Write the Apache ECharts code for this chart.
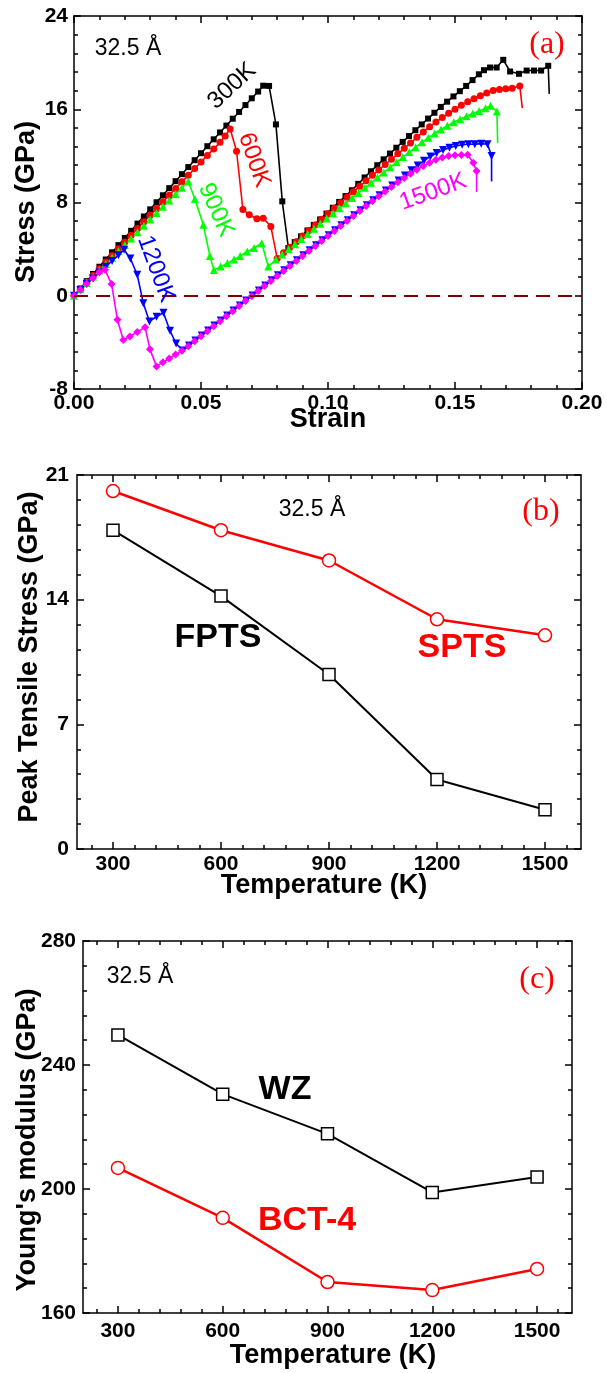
<!DOCTYPE html>
<html><head><meta charset="utf-8">
<script src="https://cdn.jsdelivr.net/npm/echarts@6/dist/echarts.min.js"></script>
<style>html,body{margin:0;padding:0;background:#fff}#c{width:607px;height:1373px}</style>
</head><body><div id="c"></div>
<script>
// ---------- Panel (a): stress-strain curves [strain, stress GPa] ----------
const curve300K = [[0,0],[0.0025,0.62],[0.005,1.25],[0.0075,1.87],[0.01,2.49],[0.0125,3.11],[0.015,3.73],[0.0175,4.34],[0.02,4.96],[0.0225,5.57],[0.025,6.19],[0.0275,6.8],[0.03,7.41],[0.0325,8.02],[0.035,8.62],[0.0375,9.23],[0.04,9.83],[0.0425,10.43],[0.045,11.04],[0.0475,11.63],[0.05,12.23],[0.0525,12.83],[0.055,13.42],[0.0575,14.01],[0.06,14.6],[0.0625,15.19],[0.065,15.77],[0.0675,16.36],[0.07,16.94],[0.0725,17.52],[0.0745,18.02],[0.0768,18.0],[0.0795,14.7],[0.082,8.1],[0.0844,4.1],[0.0869,4.6],[0.0894,5.1],[0.0919,5.6],[0.0944,6.08],[0.0969,6.55],[0.0994,7.05],[0.1019,7.55],[0.1044,8.05],[0.1069,8.55],[0.1094,9.05],[0.1119,9.6],[0.1144,10.15],[0.1169,10.68],[0.1194,11.2],[0.1219,11.7],[0.1244,12.2],[0.1269,12.7],[0.1294,13.2],[0.1319,13.7],[0.1344,14.2],[0.1369,14.7],[0.1394,15.2],[0.1419,15.7],[0.1444,16.2],[0.1469,16.65],[0.1494,17.1],[0.1519,17.55],[0.1544,18.0],[0.1569,18.5],[0.1594,19.0],[0.1614,19.35],[0.1638,19.58],[0.1664,19.58],[0.169,20.24],[0.1717,19.24],[0.1752,19.04],[0.1782,19.32],[0.1811,19.32],[0.1839,19.32],[0.1867,19.73],[0.1871,17.32]];
const curve600K = [[0,0],[0.0025,0.58],[0.005,1.16],[0.0075,1.73],[0.01,2.31],[0.0125,2.89],[0.015,3.46],[0.0175,4.04],[0.02,4.62],[0.0225,5.19],[0.025,5.77],[0.0275,6.34],[0.03,6.92],[0.0325,7.49],[0.035,8.06],[0.0375,8.63],[0.04,9.2],[0.0425,9.77],[0.045,10.34],[0.0475,10.91],[0.05,11.47],[0.0525,12.04],[0.055,12.6],[0.0575,13.16],[0.0595,13.7],[0.0615,14.3],[0.064,12.4],[0.0665,7.4],[0.069,6.95],[0.072,6.6],[0.0745,6.65],[0.0775,5.95],[0.08,3.2],[0.0825,3.68],[0.085,4.16],[0.0875,4.64],[0.09,5.12],[0.0925,5.6],[0.095,6.08],[0.0975,6.56],[0.1,7.04],[0.1025,7.51],[0.105,7.98],[0.1075,8.45],[0.11,8.92],[0.1125,9.39],[0.115,9.86],[0.1175,10.33],[0.12,10.79],[0.1225,11.25],[0.125,11.71],[0.1275,12.18],[0.13,12.65],[0.1325,13.1],[0.135,13.6],[0.1375,14.05],[0.14,14.5],[0.1425,14.9],[0.145,15.3],[0.1475,15.65],[0.15,16.0],[0.1525,16.35],[0.155,16.65],[0.1575,16.9],[0.16,17.15],[0.1625,17.4],[0.165,17.6],[0.1675,17.7],[0.17,17.75],[0.1725,17.8],[0.1755,18.0],[0.1765,16.1]];
const curve900K = [[0,0],[0.0025,0.55],[0.005,1.09],[0.0075,1.64],[0.01,2.18],[0.0125,2.73],[0.015,3.27],[0.0175,3.82],[0.02,4.36],[0.0225,4.91],[0.025,5.45],[0.0275,6.0],[0.03,6.54],[0.0325,7.09],[0.035,7.63],[0.0375,8.18],[0.04,8.72],[0.0425,9.27],[0.045,9.8],[0.0476,8.3],[0.0509,6.1],[0.0535,3.4],[0.0551,2.2],[0.0577,2.5],[0.0604,2.8],[0.063,3.1],[0.0654,3.4],[0.0682,3.8],[0.0709,4.1],[0.0739,4.5],[0.0765,2.5],[0.0795,3.1],[0.082,3.54],[0.0845,3.98],[0.087,4.42],[0.0895,4.86],[0.092,5.3],[0.0945,5.74],[0.097,6.18],[0.0995,6.62],[0.102,7.06],[0.1045,7.5],[0.107,7.94],[0.1095,8.38],[0.112,8.82],[0.1145,9.26],[0.117,9.7],[0.1195,10.14],[0.122,10.58],[0.1245,11.02],[0.127,11.46],[0.1295,11.9],[0.132,12.33],[0.1345,12.75],[0.137,13.16],[0.1395,13.55],[0.142,13.92],[0.1445,14.26],[0.147,14.58],[0.1495,14.88],[0.152,15.15],[0.1545,15.4],[0.157,15.63],[0.1595,15.85],[0.162,16.08],[0.164,16.3],[0.1665,15.8],[0.1668,13.1]];
const curve1200K = [[0,0],[0.0025,0.5],[0.005,1.0],[0.0075,1.49],[0.01,1.99],[0.0125,2.49],[0.015,2.99],[0.0175,3.48],[0.0197,3.95],[0.0222,3.2],[0.0249,1.8],[0.0273,-0.65],[0.0297,-2.2],[0.0325,-1.8],[0.0352,-1.45],[0.0378,-3.0],[0.0402,-4.1],[0.0428,-4.7],[0.0453,-4.27],[0.0478,-3.84],[0.0503,-3.41],[0.0528,-2.98],[0.0553,-2.55],[0.0578,-2.12],[0.0603,-1.69],[0.0628,-1.26],[0.0653,-0.83],[0.0678,-0.4],[0.0703,0.03],[0.0728,0.46],[0.0753,0.89],[0.0778,1.32],[0.0803,1.75],[0.0828,2.18],[0.0853,2.61],[0.0878,3.04],[0.0903,3.47],[0.0928,3.9],[0.0953,4.33],[0.0978,4.76],[0.1003,5.19],[0.1028,5.62],[0.1053,6.05],[0.1078,6.48],[0.1103,6.91],[0.1128,7.34],[0.1153,7.77],[0.1178,8.2],[0.1203,8.62],[0.1228,9.04],[0.1253,9.46],[0.1278,9.88],[0.1303,10.32],[0.1328,10.76],[0.1353,11.18],[0.1378,11.58],[0.1403,11.95],[0.1428,12.25],[0.1453,12.5],[0.1478,12.7],[0.1503,12.85],[0.1528,12.95],[0.1553,13.0],[0.1578,13.0],[0.1603,13.05],[0.1628,13.0],[0.1644,12.0],[0.1644,9.8]];
const curve1500K = [[0,0],[0.0025,0.51],[0.005,1.02],[0.0075,1.53],[0.01,2.04],[0.0122,2.23],[0.0148,1.0],[0.0171,-2.06],[0.0194,-3.8],[0.022,-3.5],[0.0249,-3.1],[0.028,-2.7],[0.0299,-4.6],[0.0325,-6.06],[0.035,-5.7],[0.0375,-5.38],[0.04,-5.05],[0.0425,-4.72],[0.045,-4.33],[0.0475,-3.9],[0.05,-3.47],[0.0525,-3.04],[0.055,-2.61],[0.0575,-2.18],[0.06,-1.75],[0.0625,-1.32],[0.065,-0.89],[0.0675,-0.46],[0.07,-0.03],[0.0725,0.4],[0.075,0.83],[0.0775,1.26],[0.08,1.69],[0.0825,2.12],[0.085,2.55],[0.0875,2.98],[0.09,3.41],[0.0925,3.84],[0.095,4.27],[0.0975,4.7],[0.1,5.13],[0.1025,5.56],[0.105,5.99],[0.1075,6.42],[0.11,6.85],[0.1125,7.28],[0.115,7.7],[0.1175,8.12],[0.12,8.53],[0.1225,8.94],[0.125,9.34],[0.1275,9.73],[0.13,10.11],[0.1325,10.47],[0.135,10.81],[0.1375,11.13],[0.14,11.42],[0.1425,11.67],[0.145,11.86],[0.1475,11.98],[0.15,12.05],[0.1525,12.08],[0.155,12.1],[0.1572,11.4],[0.1585,10.7],[0.1585,8.9]];

// ---------- Panels (b) and (c) ----------
const temperatures = [300, 600, 900, 1200, 1500];
const fpts = [17.9, 14.2, 9.8, 3.9, 2.2];
const spts = [20.1, 17.9, 16.2, 12.9, 12.0];
const wz = [249.7, 230.6, 217.8, 198.9, 203.9];
const bct4 = [206.8, 190.7, 170.0, 167.4, 174.2];
const tempTickValues = [300, 600, 900, 1200, 1500];
const tempMinorTickValues = [240, 360, 420, 480, 540, 660, 720, 780, 840, 960, 1020, 1080, 1140, 1260, 1320, 1380, 1440, 1560];

const FONT = '"Liberation Sans", Arial, sans-serif';
const SERIF = '"Liberation Serif", "Times New Roman", serif';
const lineBlack = { color: '#000', width: 1.5 };
const tickLabel = { fontFamily: FONT, fontWeight: 'bold', fontSize: 21, color: '#000' };

function valueAxis(opts) {
  return Object.assign({
    type: 'value', splitLine: { show: false },
    axisLine: { show: true, onZero: false, lineStyle: lineBlack },
    axisTick: { show: true, inside: true, length: 7, lineStyle: lineBlack },
    minorTick: { show: true, splitNumber: 5, length: 4, lineStyle: lineBlack },
    axisLabel: Object.assign({ show: true }, tickLabel)
  }, opts);
}
function tempAxes(g, labelMargin) {
  const base = { gridIndex: g, type: 'value', min: 200, max: 1600, splitLine: { show: false } };
  return [
    Object.assign({}, base, { position: 'bottom',
      axisLine: { show: true, onZero: false, lineStyle: lineBlack },
      axisTick: { show: true, inside: true, length: 7, lineStyle: lineBlack, customValues: tempTickValues },
      axisLabel: Object.assign({ show: true, margin: labelMargin, customValues: tempTickValues,
        formatter: v => String(v) }, tickLabel) }),
    Object.assign({}, base, { position: 'bottom',
      axisLine: { show: false, onZero: false },
      axisTick: { show: true, inside: true, length: 4, lineStyle: lineBlack, customValues: tempMinorTickValues },
      axisLabel: { show: false } }),
    Object.assign({}, base, { position: 'top',
      axisLine: { show: true, onZero: false, lineStyle: lineBlack },
      axisTick: { show: true, inside: true, length: 7, lineStyle: lineBlack, customValues: tempTickValues },
      axisLabel: { show: false } }),
    Object.assign({}, base, { position: 'top',
      axisLine: { show: false, onZero: false },
      axisTick: { show: true, inside: true, length: 4, lineStyle: lineBlack, customValues: tempMinorTickValues },
      axisLabel: { show: false } })
  ];
}

function curveSeries(data, color, symbol, size, rotate) {
  return {
    type: 'line', xAxisIndex: 0, yAxisIndex: 0, animation: false,
    data: data.map((p, i) => i === data.length - 1 ? { value: p, symbol: 'none' } : p),
    symbol: symbol, symbolSize: size, symbolRotate: rotate || 0, showAllSymbol: true,
    lineStyle: { color: color, width: 1.6 }, itemStyle: { color: color }, z: 3
  };
}
function tempSeries(xi, yi, vals, color, symbol, size, width) {
  return {
    type: 'line', xAxisIndex: xi, yAxisIndex: yi, animation: false,
    data: temperatures.map((t, i) => [t, vals[i]]),
    symbol: symbol, symbolSize: size, showAllSymbol: true,
    lineStyle: { color: color, width: width },
    itemStyle: { color: '#fff', borderColor: color, borderWidth: 1.5 }, z: 3
  };
}
function txt(text, x, y, size, weight, color, rot, family) {
  return { type: 'text', x: x, y: y, rotation: rot || 0, z: 100,
    style: { text: text, fill: color, fontSize: size, fontWeight: weight, fontFamily: family || FONT,
      textAlign: 'center', textVerticalAlign: 'middle', align: 'center', verticalAlign: 'middle' } };
}

const option = {
  backgroundColor: '#fff',
  animation: false,
  grid: [
    { left: 74, top: 16, width: 508, height: 373 },
    { left: 77, top: 475, width: 504, height: 374 },
    { left: 83, top: 941, width: 489, height: 372 }
  ],
  xAxis: [
    valueAxis({ gridIndex: 0, min: 0, max: 0.2, interval: 0.05, position: 'bottom',
      axisLabel: Object.assign({ margin: 4, formatter: v => v.toFixed(2) }, tickLabel) }),
    valueAxis({ gridIndex: 0, min: 0, max: 0.2, interval: 0.05, position: 'top', axisLabel: { show: false } })
  ].concat(tempAxes(1, 5)).concat(tempAxes(2, 8)),
  yAxis: [
    valueAxis({ gridIndex: 0, min: -8, max: 24, interval: 8, position: 'left',
      axisLabel: Object.assign({ margin: 6 }, tickLabel) }),
    valueAxis({ gridIndex: 0, min: -8, max: 24, interval: 8, position: 'right', axisLabel: { show: false } }),
    valueAxis({ gridIndex: 1, min: 0, max: 21, interval: 7, position: 'left',
      axisLabel: Object.assign({ margin: 8 }, tickLabel) }),
    valueAxis({ gridIndex: 1, min: 0, max: 21, interval: 7, position: 'right', axisLabel: { show: false } }),
    valueAxis({ gridIndex: 2, min: 160, max: 280, interval: 40, position: 'left',
      axisLabel: Object.assign({ margin: 7 }, tickLabel) }),
    valueAxis({ gridIndex: 2, min: 160, max: 280, interval: 40, position: 'right', axisLabel: { show: false } })
  ],
  series: [
    {
      type: 'line', xAxisIndex: 0, yAxisIndex: 0, data: [], z: 1,
      markLine: { silent: true, symbol: 'none', animation: false, label: { show: false },
        lineStyle: { color: '#800000', width: 2, type: [14, 8] }, data: [{ yAxis: 0 }] }
    },
    curveSeries(curve300K, '#000000', 'rect', 6),
    curveSeries(curve600K, '#ff0000', 'circle', 7),
    curveSeries(curve900K, '#00ff00', 'triangle', 8),
    curveSeries(curve1200K, '#0000ff', 'triangle', 8, 180),
    curveSeries(curve1500K, '#ff00ff', 'diamond', 8),
    tempSeries(2, 2, fpts, '#000000', 'rect', 12, 2),
    tempSeries(2, 2, spts, '#ff0000', 'circle', 13, 2.5),
    tempSeries(6, 4, wz, '#000000', 'rect', 12, 2),
    tempSeries(6, 4, bct4, '#ff0000', 'circle', 13, 2.5)
  ],
  graphic: [
    // panel (a)
    txt('Stress (GPa)', 27, 202, 27, 'bold', '#000', Math.PI / 2),
    txt('Strain', 328, 420, 27, 'bold', '#000'),
    txt('32.5 Å', 128, 49, 23, 'normal', '#000'),
    txt('(a)', 547, 45, 32, 'normal', '#ff0000', 0, SERIF),
    txt('300K', 232, 86, 24, 'normal', '#000', 0.75),
    txt('600K', 254, 160, 24, 'normal', '#ff0000', -1.24),
    txt('900K', 216, 210, 24, 'normal', '#00ff00', -1.15),
    txt('1200K', 156, 269, 24, 'normal', '#0000ff', -1.22),
    txt('1500K', 433, 192, 24, 'normal', '#ff00ff', 0.35),
    // panel (b)
    txt('Peak Tensile Stress (GPa)', 30, 657, 27, 'bold', '#000', Math.PI / 2),
    txt('Temperature (K)', 324, 886, 27, 'bold', '#000'),
    txt('32.5 Å', 312, 510, 23, 'normal', '#000'),
    txt('(b)', 541, 512, 32, 'normal', '#ff0000', 0, SERIF),
    txt('FPTS', 218, 638, 34, 'bold', '#000'),
    txt('SPTS', 462, 648, 34, 'bold', '#ff0000'),
    // panel (c)
    txt("Young's modulus (GPa)", 28, 1140, 27, 'bold', '#000', Math.PI / 2),
    txt('Temperature (K)', 333, 1356, 27, 'bold', '#000'),
    txt('32.5 Å', 140, 977, 23, 'normal', '#000'),
    txt('(c)', 537, 980, 32, 'normal', '#ff0000', 0, SERIF),
    txt('WZ', 285, 1090, 34, 'bold', '#000'),
    txt('BCT-4', 307, 1221, 34, 'bold', '#ff0000')
  ]
};

const chart = echarts.init(document.getElementById('c'), null, { renderer: 'canvas', width: 607, height: 1373 });
chart.setOption(option);
</script></body></html>
